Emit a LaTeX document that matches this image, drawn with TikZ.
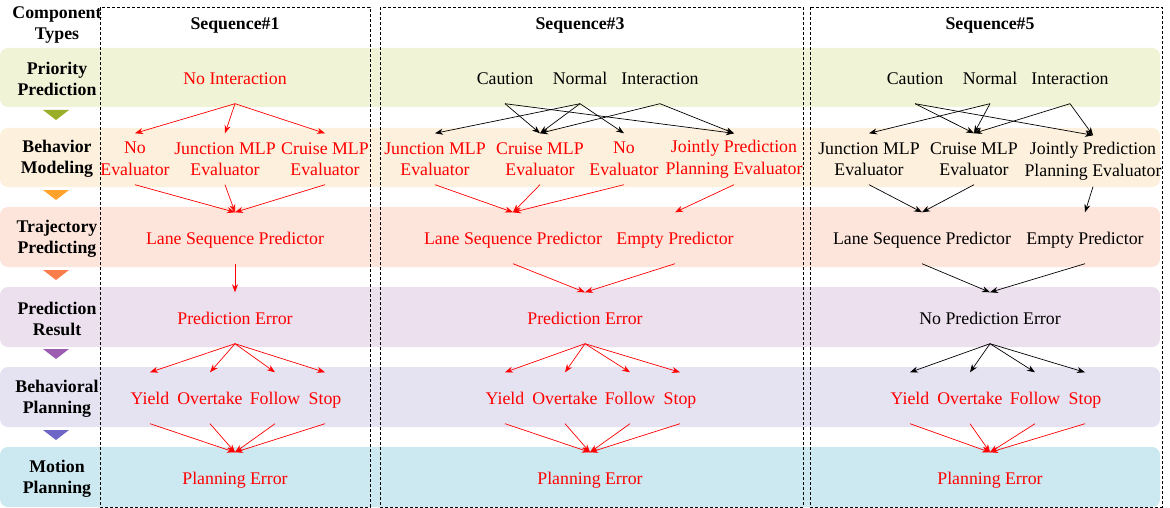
\documentclass[tikz,border=0pt]{standalone}
\usepackage{fontspec}
\setmainfont{Liberation Serif}
\usetikzlibrary{arrows.meta}

\definecolor{bandpri}{HTML}{F0F3D6}
\definecolor{bandbeh}{HTML}{FDF0DC}
\definecolor{bandtra}{HTML}{FDE5DC}
\definecolor{bandres}{HTML}{ECE0EE}
\definecolor{bandbpl}{HTML}{E5E2F1}
\definecolor{bandmot}{HTML}{CCE9F1}
\definecolor{tripri}{HTML}{9AAE28}
\definecolor{tribeh}{HTML}{FFA22C}
\definecolor{tritra}{HTML}{FA7D4A}
\definecolor{trires}{HTML}{9C5CB2}
\definecolor{tribpl}{HTML}{6D66C6}

\tikzset{
	txt/.style={font=\fontsize{17.8}{21.5}\selectfont, align=center, inner sep=1pt, minimum height=51pt},
	one/.style={txt, text height=14pt, text depth=1.5pt},
	rd/.style={one, text=red},
	bk/.style={one, text=black},
	rdtwo/.style={txt, text=red},
	bktwo/.style={txt, text=black},
	hdr/.style={font=\fontsize{17.8}{21}\selectfont\bfseries, align=center, inner sep=1pt},
	rarr/.style={draw=red, line width=0.7pt, -{Stealth[length=8pt,width=6pt]}},
	barr/.style={draw=black, line width=0.7pt, -{Stealth[length=8pt,width=6pt]}},
	seqbox/.style={draw=black, line width=0.7pt, dash pattern=on 3pt off 2pt},
	band/.style={rounded corners=8pt}
}

\begin{document}
\begin{tikzpicture}[x=1pt, y=-1pt]
	\useasboundingbox (0,0) rectangle (1170,508);

	%%%% bands
	\fill[band, bandpri] (0,48) rectangle (1160,107);
	\fill[band, bandbeh] (0,128) rectangle (1160,187);
	\fill[band, bandtra] (0,207) rectangle (1160,267);
	\fill[band, bandres] (0,287) rectangle (1160,347);
	\fill[band, bandbpl] (0,367) rectangle (1160,427);
	\fill[band, bandmot] (0,447) rectangle (1160,507);

	%%%% triangles
	\fill[tripri] (43,110) -- (69,110) -- (56,120) -- cycle;
	\fill[tribeh] (43,190) -- (69,190) -- (56,200) -- cycle;
	\fill[tritra] (43,270) -- (69,270) -- (56,280) -- cycle;
	\fill[trires] (43,349) -- (69,349) -- (56,359) -- cycle;
	\fill[tribpl] (43,430) -- (69,430) -- (56,440) -- cycle;

	%%%% sequence boxes
	\draw[seqbox] (100,7) rectangle (370,507);
	\draw[seqbox] (380,7) rectangle (803,507);
	\draw[seqbox] (810,7) rectangle (1162,507);

	%%%% component types
	\node[hdr] (ct) at (57,25) {Component\\Types};
	\node[hdr] (ctpri) at (57,79) {Priority\\Prediction};
	\node[hdr] (ctbeh) at (57,159) {Behavior\\Modeling};
	\node[hdr] (cttra) at (57,239) {Trajectory\\Predicting};
	\node[hdr] (ctres) at (57,319) {Prediction\\Result};
	\node[hdr] (ctbpl) at (57,399) {Behavioral\\Planning};
	\node[hdr] (ctmot) at (57,479) {Motion\\Planning};

	%%%% sequence#1
	\node[hdr] (sqa) at (235,26) {Sequence\#1};
	\node[rd] (aint) at (235,78) {No Interaction};
	\node[rdtwo] (anoe) at (135,159) {No\\Evaluator};
	\node[rdtwo] (ajun) at (225,159) {Junction MLP\\Evaluator};
	\node[rdtwo] (acru) at (325,159) {Cruise MLP\\Evaluator};
	\node[rd] (alsp) at (235,238) {Lane Sequence Predictor};
	\node[rd] (aerr) at (235,318) {Prediction Error};
	\node[rd] (ayie) at (150,398) {Yield};
	\node[rd] (aove) at (210,398) {Overtake};
	\node[rd] (afol) at (275,398) {Follow};
	\node[rd] (asto) at (325,398) {Stop};
	\node[rd] (aple) at (235,478) {Planning Error};

	\foreach \t in {anoe,ajun,acru} {
		\draw[rarr] (aint.south) -- (\t.north);
		\draw[rarr] (\t.south) -- (alsp.north);
	}
	\draw[rarr] (alsp.south) -- (aerr.north);
	\foreach \t in {ayie,aove,afol,asto} {
		\draw[rarr] (aerr.south) -- (\t.north);
		\draw[rarr] (\t.south) -- (aple.north);
	}

	%%%% sequence#3
	\node[hdr] (sqc) at (580,26) {Sequence\#3};
	\node[bk] (ccau) at (505,78) {Caution};
	\node[bk] (cnor) at (580,78) {Normal};
	\node[bk] (cint) at (660,78) {Interaction};
	\node[rdtwo] (cjun) at (435,159) {Junction MLP\\Evaluator};
	\node[rdtwo] (ccru) at (540,159) {Cruise MLP\\Evaluator};
	\node[rdtwo] (cnoe) at (624,159) {No\\Evaluator};
	\node[rdtwo] (cjpp) at (734,159) {Jointly Prediction\\Planning Evaluator};
	\node[rd] (clsp) at (513,238) {Lane Sequence Predictor};
	\node[rd] (cemp) at (675,238) {Empty Predictor};
	\node[rd] (cerr) at (585,318) {Prediction Error};
	\node[rd] (cyie) at (505,398) {Yield};
	\node[rd] (cove) at (565,398) {Overtake};
	\node[rd] (cfol) at (630,398) {Follow};
	\node[rd] (csto) at (680,398) {Stop};
	\node[rd] (cple) at (590,478) {Planning Error};

	\draw[barr] (ccau.south) -- (ccru.north);
	\draw[barr] (ccau.south) -- (cjpp.north);
	\draw[barr] (cnor.south) -- (cjun.north);
	\draw[barr] (cnor.south) -- (ccru.north);
	\draw[barr] (cnor.south) -- (cnoe.north);
	\draw[barr] (cint.south) -- (ccru.north);
	\draw[barr] (cint.south) -- (cjpp.north);
	\foreach \t in {cjun,ccru,cnoe}
		\draw[rarr] (\t.south) -- (clsp.north);
	\draw[rarr] (cjpp.south) -- (cemp.north);
	\draw[rarr] (clsp.south) -- (cerr.north);
	\draw[rarr] (cemp.south) -- (cerr.north);
	\foreach \t in {cyie,cove,cfol,csto} {
		\draw[rarr] (cerr.south) -- (\t.north);
		\draw[rarr] (\t.south) -- (cple.north);
	}

	%%%% sequence#5
	\node[hdr] (sqe) at (990,26) {Sequence\#5};
	\node[bk] (ecau) at (915,78) {Caution};
	\node[bk] (enor) at (990,78) {Normal};
	\node[bk] (eint) at (1070,78) {Interaction};
	\node[bktwo] (ejun) at (869,159) {Junction MLP\\Evaluator};
	\node[bktwo] (ecru) at (974,159) {Cruise MLP\\Evaluator};
	\node[bktwo] (ejpp) at (1093,161) {Jointly Prediction\\Planning Evaluator};
	\node[bk] (elsp) at (922,238) {Lane Sequence Predictor};
	\node[bk] (eemp) at (1085,238) {Empty Predictor};
	\node[bk] (eerr) at (990,318) {No Prediction Error};
	\node[rd] (eyie) at (910,398) {Yield};
	\node[rd] (eove) at (970,398) {Overtake};
	\node[rd] (efol) at (1035,398) {Follow};
	\node[rd] (esto) at (1085,398) {Stop};
	\node[rd] (eple) at (990,478) {Planning Error};

	\draw[barr] (ecau.south) -- (ecru.north);
	\draw[barr] (ecau.south) -- (ejpp.north);
	\draw[barr] (enor.south) -- (ejun.north);
	\draw[barr] (enor.south) -- (ecru.north);
	\draw[barr] (eint.south) -- (ecru.north);
	\draw[barr] (eint.south) -- (ejpp.north);
	\draw[barr] (ejun.south) -- (elsp.north);
	\draw[barr] (ecru.south) -- (elsp.north);
	\draw[barr] (ejpp.south) -- (eemp.north);
	\draw[barr] (elsp.south) -- (eerr.north);
	\draw[barr] (eemp.south) -- (eerr.north);
	\foreach \t in {eyie,eove,efol,esto} {
		\draw[barr] (eerr.south) -- (\t.north);
		\draw[rarr] (\t.south) -- (eple.north);
	}
\end{tikzpicture}
\end{document}
